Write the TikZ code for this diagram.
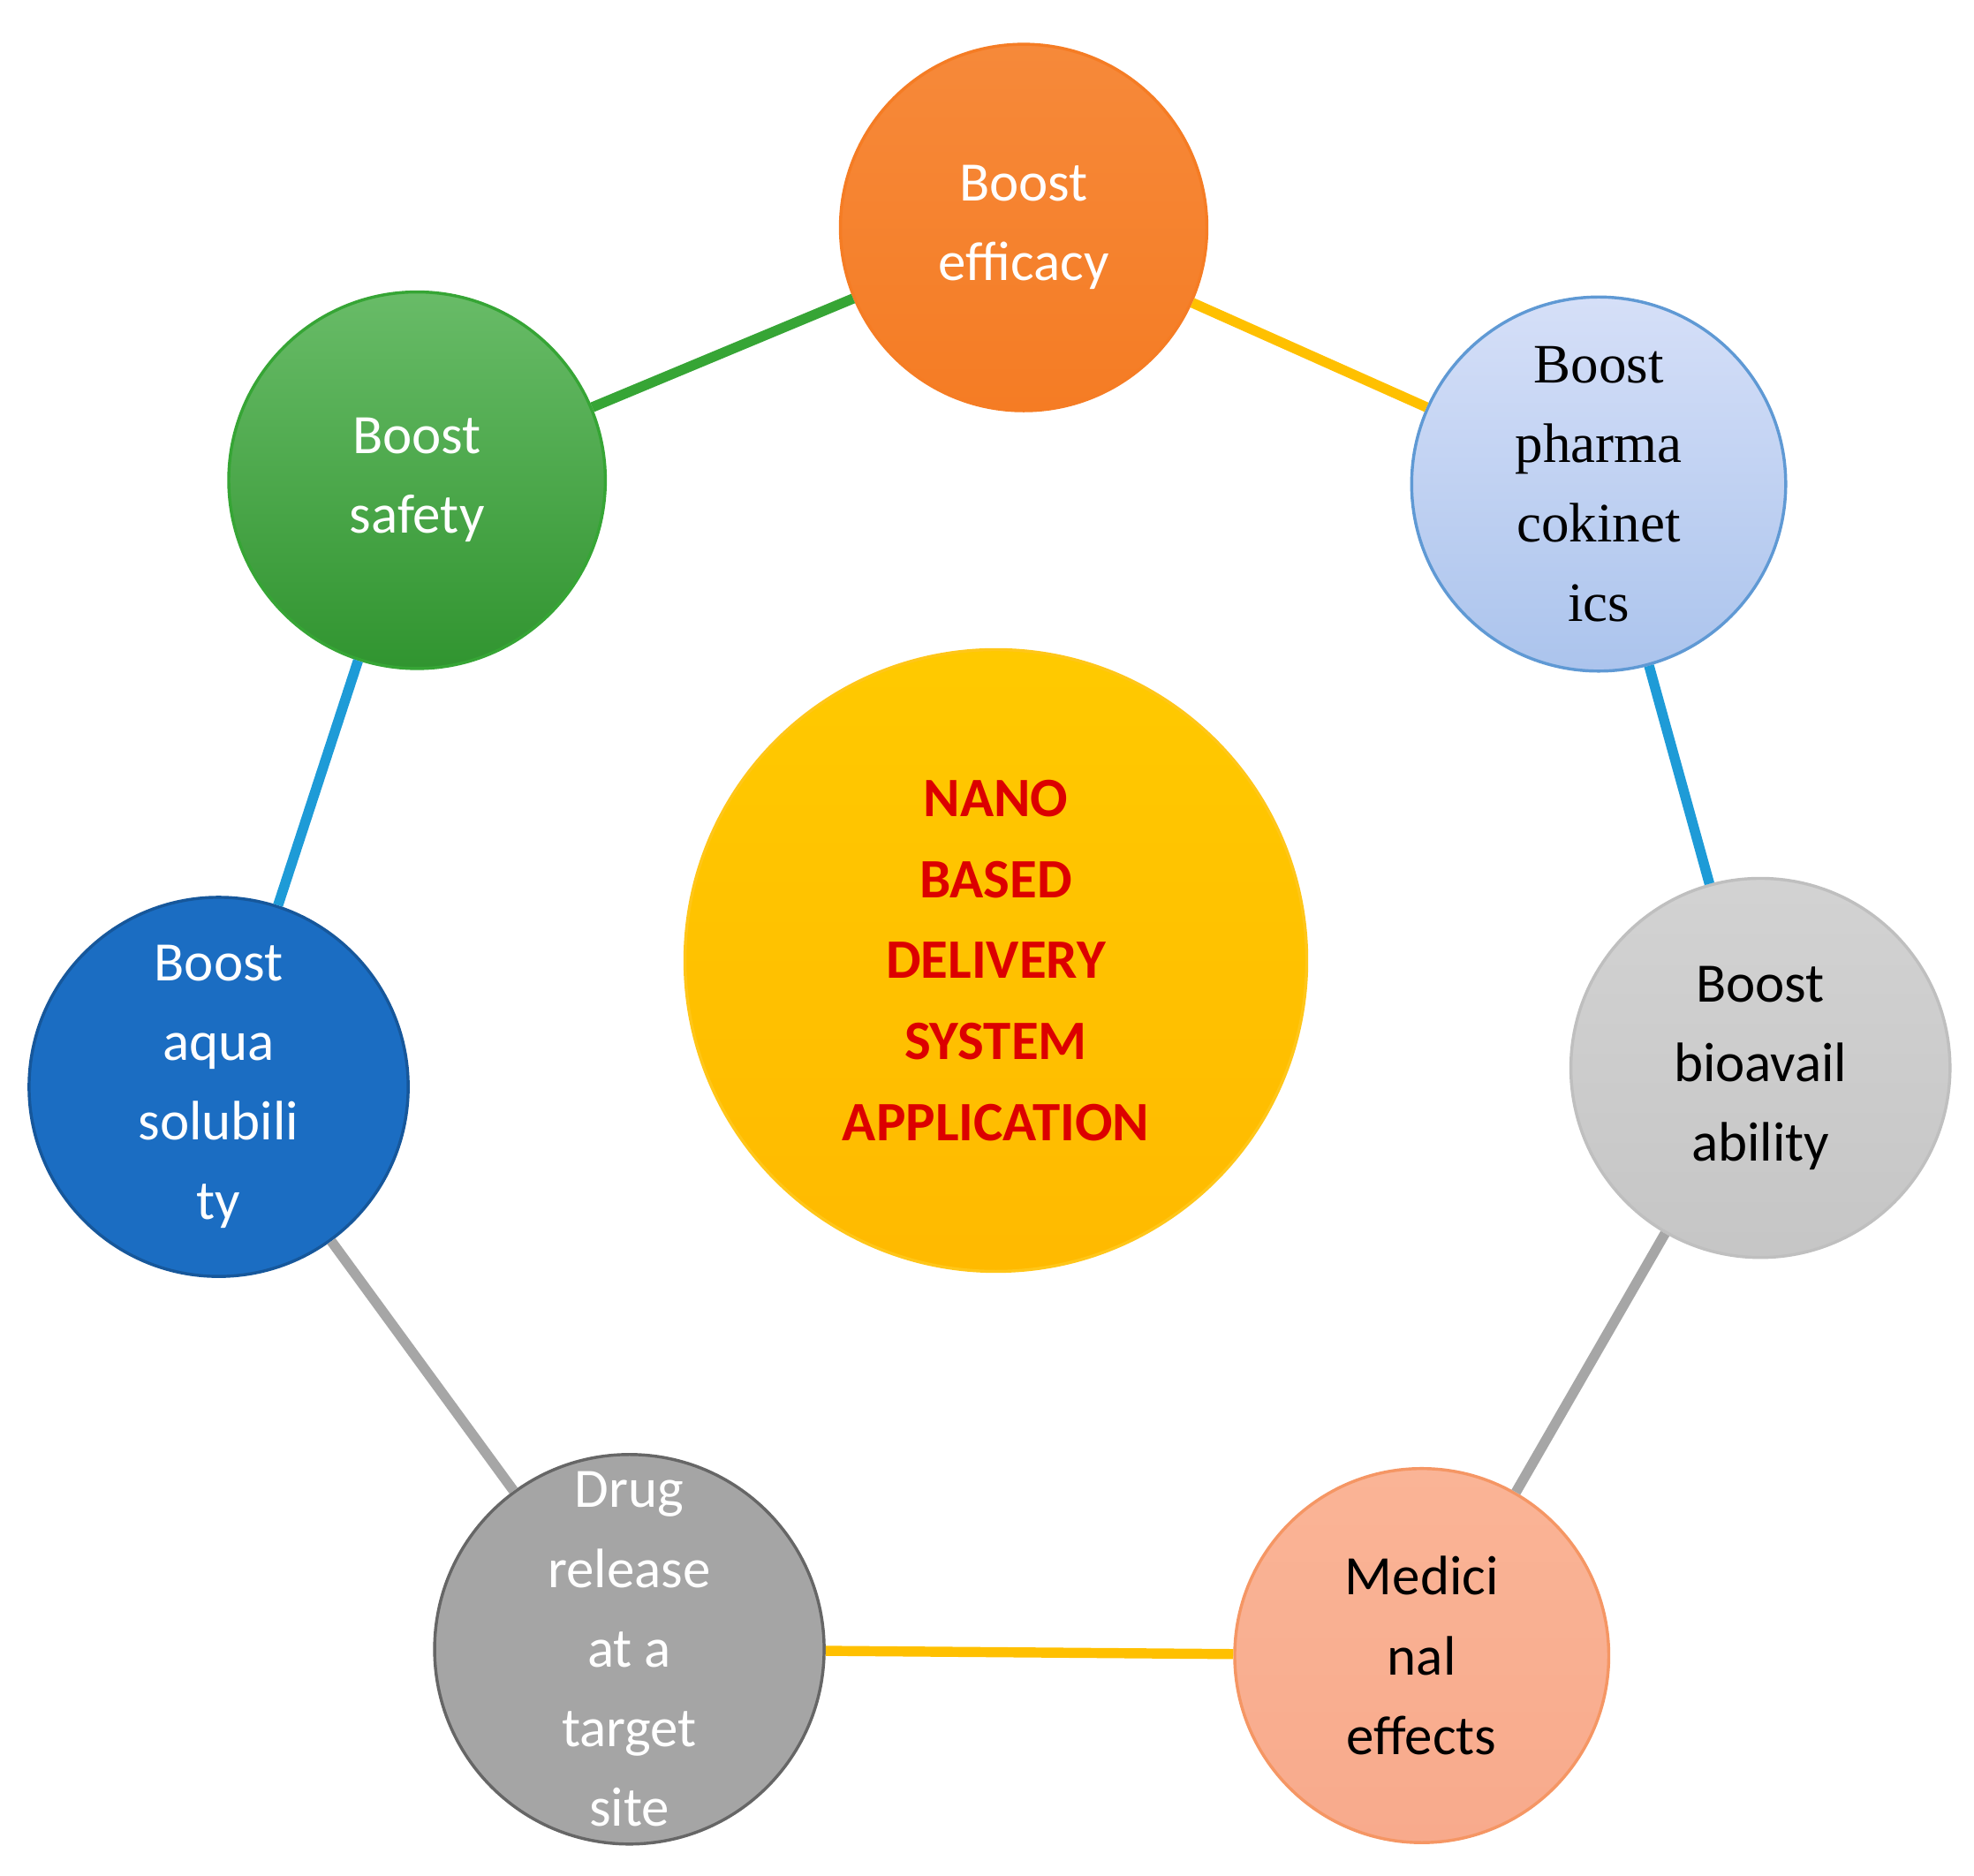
\documentclass[tikz,border=0pt]{standalone}
\usepackage{fontspec}
\setmainfont{Carlito}
\newfontfamily\tnr{Liberation Serif}
\usetikzlibrary{shadings}
\begin{document}
\begin{tikzpicture}[x=0.5pt,y=-0.5pt,
  circ/.style={circle,minimum size=296*0.5pt,inner sep=0pt,align=center,line width=1.2pt,
    font=\fontsize{22}{31.5}\selectfont},
  conn/.style={line width=4pt}]
\useasboundingbox (0,0) rectangle (1562,1484);
\definecolor{corange}{HTML}{F57C24}
\definecolor{cgreen}{HTML}{36A535}
\definecolor{cblue}{HTML}{1B6DC2}
\definecolor{cline}{HTML}{1E9BD7}
\definecolor{cyel}{HTML}{FFC000}
\definecolor{cgrey}{HTML}{A5A5A5}
\definecolor{cgreyline}{HTML}{A6A6A6}
\node[circ,top color=corange!90!white,bottom color=corange,draw=corange,text=white,minimum size=290*0.5pt] (eff) at (810,180) {Boost\\efficacy};
\node[circ,top color=cgreen!75!white,bottom color=cgreen!90!black,draw=cgreen,text=white,minimum size=298*0.5pt] (saf) at (330,380) {Boost\\safety};
\node[circ,top color=blue!20!white!70!cblue!40,bottom color=blue!20!white!50!cblue!60,draw=cblue!70,text=black,font=\tnr\fontsize{22}{31.5}\selectfont] (pk) at (1265,383) {Boost\\pharma\\cokinet\\ics};
\node[circ,top color=gray!35,bottom color=gray!45,draw=gray!50,text=black,minimum size=300*0.5pt] (bio) at (1393,845) {Boost\\bioavail\\ability};
\node[circ,fill=orange!40!white!80!red!40,top color={rgb,255:red,250;green,180;blue,150},bottom color={rgb,255:red,248;green,170;blue,140},draw={rgb,255:red,245;green,150;blue,100},text=black] (med) at (1125,1310) {Medici\\nal\\effects};
\node[circ,fill=cgrey,draw=gray!80!black,text=white,minimum size=300*0.5pt] (drug) at (498,1305) {Drug\\release\\at a\\target\\site};
\node[circ,fill=cblue,draw=cblue!80!black,text=white,minimum size=300*0.5pt] (aqua) at (173,860) {Boost\\aqua\\solubili\\ty};
\node[circle,minimum size=492*0.5pt,inner sep=0pt,align=center,top color=cyel!85!yellow,bottom color=cyel!90!orange,draw=cyel!90!white,line width=1.2pt,text={rgb,255:red,220;green,0;blue,0},font=\bfseries\fontsize{22}{32}\selectfont] (c) at (788,760) {NANO\\BASED\\DELIVERY\\SYSTEM\\APPLICATION};
\draw[conn,draw=cgreen] (eff) -- (saf);
\draw[conn,draw=cyel] (eff) -- (pk);
\draw[conn,draw=cline] (pk) -- (bio);
\draw[conn,draw=cgreyline] (bio) -- (med);
\draw[conn,draw=cyel] (med) -- (drug);
\draw[conn,draw=cgreyline] (drug) -- (aqua);
\draw[conn,draw=cline] (aqua) -- (saf);
\end{tikzpicture}
\end{document}
